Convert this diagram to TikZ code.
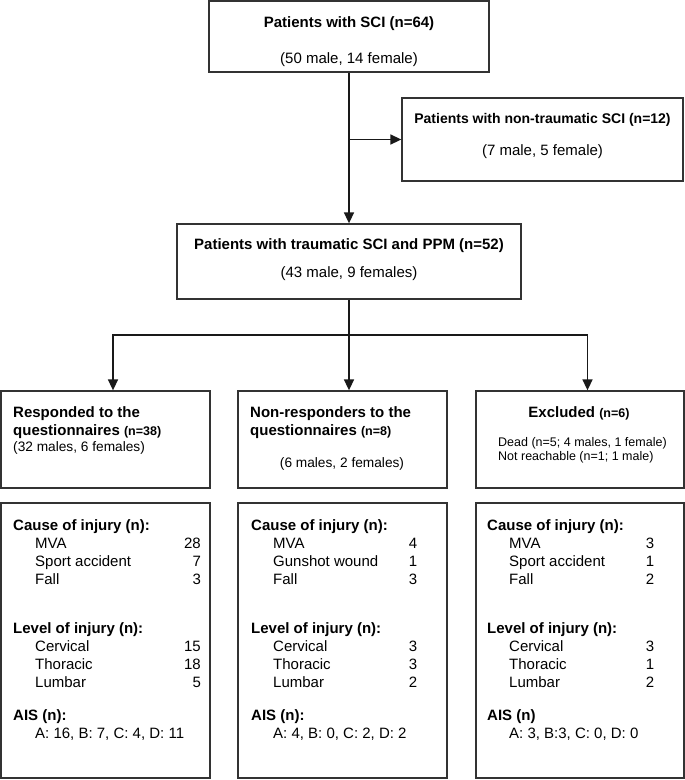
\documentclass[tikz,border=0pt]{standalone}
\usepackage{fontspec}
\setmainfont{Liberation Sans}
\usetikzlibrary{arrows.meta}

\newcommand{\nsmall}{\fontsize{12.5}{14}\selectfont}
\newcommand{\itemgap}{\hspace*{22pt}}

\tikzset{
  box/.style={draw=black!80, line width=1.3pt},
  link/.style={draw=black!90, line width=1.6pt},
  flow/.style={link, -{Triangle[length=11pt,width=10pt]}},
  head/.style={font=\fontsize{15}{18}\selectfont\bfseries, inner sep=0pt},
  body/.style={font=\fontsize{15}{18}\selectfont, inner sep=0pt},
  sexline/.style={font=\fontsize{13.7}{16}\selectfont, inner sep=0pt},
  note/.style={font=\nsmall, inner sep=0pt},
}

\begin{document}
\begin{tikzpicture}[x=1pt,y=-1pt]
        \useasboundingbox (0,0) rectangle (685,780);

        % the boxes
        \node[box, minimum width=280, minimum height=71] (sci) at (349,36.5) {};
        \node[box, minimum width=281, minimum height=83] (nontr) at (542.5,139.5) {};
        \node[box, minimum width=344, minimum height=75] (trauma) at (349,261.5) {};
        \node[box, minimum width=209, minimum height=97] (resp) at (105.5,439.5) {};
        \node[box, minimum width=209, minimum height=97] (nonresp) at (342.5,439.5) {};
        \node[box, minimum width=208, minimum height=97] (excl) at (580,439.5) {};
        \node[box, minimum width=209, minimum height=275] (respInj) at (105.5,640.5) {};
        \node[box, minimum width=209, minimum height=275] (nonrespInj) at (342.5,640.5) {};
        \node[box, minimum width=208, minimum height=275] (exclInj) at (580,640.5) {};

        % top texts
        \node[head, anchor=base] (sciT) at (349,27) {Patients with SCI (n=64)};
        \node[body, anchor=base] (sciS) at (349,63) {(50 male, 14 female)};
        \node[head, font=\fontsize{14}{17}\selectfont\bfseries, anchor=base] (nontrT)
            at (542.5,123) {Patients with non-traumatic SCI (n=12)};
        \node[body, anchor=base] (nontrS) at (542.5,155) {(7 male, 5 female)};
        \node[head, anchor=base] (traumaT) at (349,249) {Patients with traumatic SCI and PPM (n=52)};
        \node[body, anchor=base] (traumaS) at (349,277) {(43 male, 9 females)};

        % second row texts
        \node[head, anchor=base west] (respT1) at (13,417) {Responded to the};
        \node[head, anchor=base west] (respT2) at (13,435) {questionnaires {\nsmall (n=38)}};
        \node[sexline, anchor=base west] (respS) at (13,451) {(32 males, 6 females)};
        \node[head, anchor=base west] (nonrespT1) at (250,417) {Non-responders to the};
        \node[head, anchor=base west] (nonrespT2) at (250,435) {questionnaires {\nsmall (n=8)}};
        \node[sexline, anchor=base] (nonrespS) at (342,467) {(6 males, 2 females)};
        \node[head, anchor=base] (exclT) at (579,417) {Excluded {\nsmall (n=6)}};
        \node[note, anchor=base west] (exclD) at (498,446) {Dead (n=5; 4 males, 1 female)};
        \node[note, anchor=base west] (exclN) at (498,460) {Not reachable (n=1; 1 male)};

        % injury details
        \node[body, anchor=base west] (respL) at (13,530) {%
            \begin{tabular*}{180pt}[t]{@{}l@{\extracolsep{\fill}}r@{}}
            \textbf{Cause of injury (n):} & \\
            \itemgap MVA & 28\\
            \itemgap Sport accident & 7\\
            \itemgap Fall & 3\\[31pt]
            \textbf{Level of injury (n):} & \\
            \itemgap Cervical & 15\\
            \itemgap Thoracic & 18\\
            \itemgap Lumbar & 5\\[15pt]
            \textbf{AIS (n):} & \\
            \itemgap A: 16, B: 7, C: 4, D: 11 &
            \end{tabular*}};
        \node[body, anchor=base west] (nonrespL) at (251,530) {%
            \begin{tabular*}{166pt}[t]{@{}l@{\extracolsep{\fill}}r@{}}
            \textbf{Cause of injury (n):} & \\
            \itemgap MVA & 4\\
            \itemgap Gunshot wound & 1\\
            \itemgap Fall & 3\\[31pt]
            \textbf{Level of injury (n):} & \\
            \itemgap Cervical & 3\\
            \itemgap Thoracic & 3\\
            \itemgap Lumbar & 2\\[15pt]
            \textbf{AIS (n):} & \\
            \itemgap A: 4, B: 0, C: 2, D: 2 &
            \end{tabular*}};
        \node[body, anchor=base west] (exclL) at (487,530) {%
            \begin{tabular*}{167pt}[t]{@{}l@{\extracolsep{\fill}}r@{}}
            \textbf{Cause of injury (n):} & \\
            \itemgap MVA & 3\\
            \itemgap Sport accident & 1\\
            \itemgap Fall & 2\\[31pt]
            \textbf{Level of injury (n):} & \\
            \itemgap Cervical & 3\\
            \itemgap Thoracic & 1\\
            \itemgap Lumbar & 2\\[15pt]
            \textbf{AIS (n)} & \\
            \itemgap A: 3, B:3, C: 0, D: 0 &
            \end{tabular*}};

        % connectors
        \coordinate (fork) at (trauma.south |- 0,335);
        \draw[flow] (sci.south) -- (trauma.north);
        \draw[flow] (sci.south |- nontr.west) -- (nontr.west);
        \draw[link] (trauma.south) -- (fork);
        \draw[flow] (fork) -| ([xshift=7.5pt]resp.north);
        \draw[flow] (fork) -- (fork |- nonresp.north);
        \draw[flow] (fork) -| ([xshift=7.5pt]excl.north);
\end{tikzpicture}
\end{document}
